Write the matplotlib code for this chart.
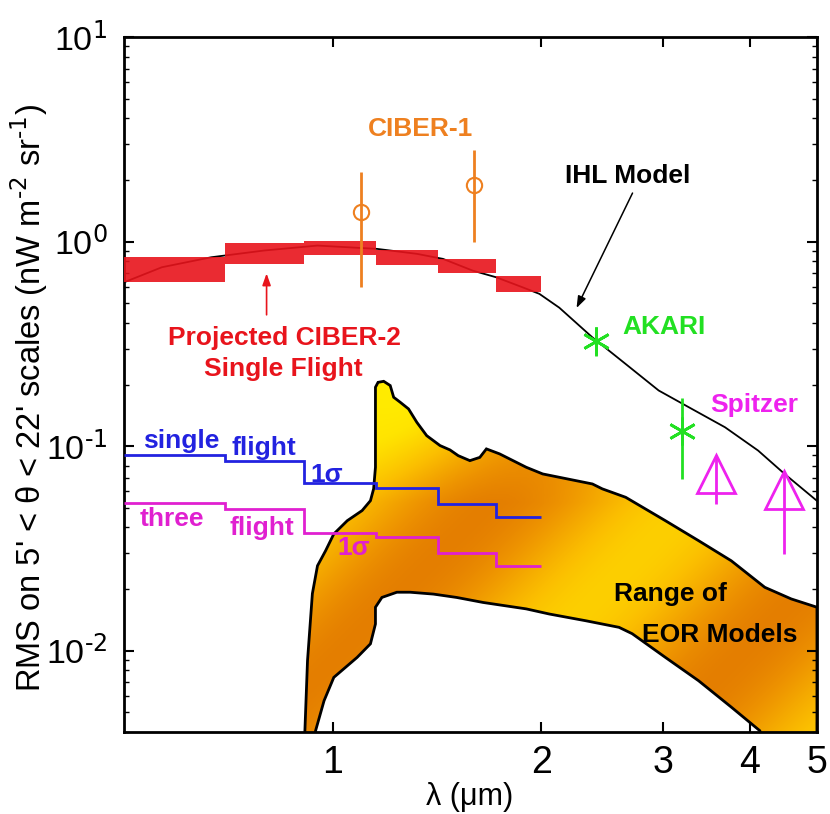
import numpy as np
import matplotlib
matplotlib.use('Agg')
import matplotlib.pyplot as plt
from matplotlib.colors import LinearSegmentedColormap
from matplotlib.patches import Polygon
from matplotlib.ticker import FixedLocator, FuncFormatter, LogLocator, NullFormatter, NullLocator

plt.rcParams['font.family'] = ['Liberation Sans', 'DejaVu Sans']
plt.rcParams['mathtext.default'] = 'regular'

# ---- data ----
# CIBER-2 bins (um)
bin_edges = [0.5, 0.70, 0.91, 1.155, 1.42, 1.72, 2.0]
ciber2_lo = [0.637, 0.778, 0.861, 0.769, 0.703, 0.565]
ciber2_hi = [0.845, 0.981, 1.010, 0.911, 0.823, 0.675]
single_1sig = [0.0906, 0.0849, 0.0658, 0.0622, 0.0522, 0.0449]
three_1sig = [0.0525, 0.0493, 0.0375, 0.0358, 0.0299, 0.0260]

# IHL model
ihl_lam = [0.5, 0.567, 0.668, 0.796, 0.951, 1.159, 1.323, 1.443, 1.593, 1.722,
           1.879, 1.988, 2.124, 2.371, 2.648, 2.955, 3.299, 3.684, 4.112, 4.49, 5.0]
ihl_rms = [0.632, 0.749, 0.838, 0.904, 0.956, 0.921, 0.871, 0.823, 0.721, 0.669,
           0.598, 0.555, 0.475, 0.340, 0.252, 0.187, 0.152, 0.1236, 0.0951, 0.0731, 0.0540]

# measurements
ciber1_lam = [1.10, 1.60]
ciber1_rms = [1.39, 1.89]
ciber1_lo = [0.598, 0.99]
ciber1_hi = [2.18, 2.79]

akari_lam = [2.40, 3.19]
akari_rms = [0.328, 0.119]
akari_lo = [0.277, 0.0691]
akari_hi = [0.381, 0.171]

spitzer_lam = [3.58, 4.48]
spitzer_rms = [0.0731, 0.0610]
spitzer_lo = [0.0522, 0.0297]
spitzer_hi = [0.0909, 0.0759]

# EOR model range: upper edge left->right, lower edge right->left
eor_up_lam = [0.909, 0.920, 0.935, 0.951, 0.977, 1.004, 1.050, 1.103, 1.134, 1.146,
              1.153, 1.153, 1.163, 1.185, 1.211, 1.225, 1.252, 1.287, 1.323, 1.367,
              1.429, 1.477, 1.518, 1.578, 1.631, 1.667, 1.742, 1.903, 2.010, 2.371,
              2.450, 2.648, 3.021, 3.373, 3.761, 4.204, 4.590, 5.0, 5.0]
eor_up_rms = [0.003, 0.00893, 0.0190, 0.0260, 0.0308, 0.0372, 0.0432, 0.0484, 0.0541, 0.0618,
              0.0788, 0.194, 0.205, 0.2074, 0.1977, 0.1733, 0.1638, 0.152, 0.1307, 0.1125,
              0.1006, 0.0958, 0.0898, 0.0849, 0.0881, 0.0969, 0.0916, 0.0788, 0.0731, 0.0653,
              0.0618, 0.0562, 0.0432, 0.0345, 0.0275, 0.0204, 0.0179, 0.0163, 0.003]
eor_lo_lam = [4.25, 4.135, 3.765, 3.373, 3.021, 2.706, 2.590, 2.319, 2.055, 1.903,
              1.649, 1.510, 1.398, 1.294, 1.238, 1.178, 1.153, 1.153, 1.134, 1.085,
              1.004, 0.972, 0.945, 0.943]
eor_lo_rms = [0.003, 0.00406, 0.00528, 0.00713, 0.00927, 0.0121, 0.0130, 0.0140, 0.0151, 0.0160,
              0.0172, 0.0182, 0.0189, 0.0193, 0.0193, 0.0182, 0.0163, 0.0135, 0.0108, 0.00927,
              0.00740, 0.00569, 0.00406, 0.003]

RED = '#E8141C'
ORANGE = '#EE8020'
GREEN = '#22E022'
MAGENTA = '#EE22EE'
BLUE = '#2222E0'
PINK = '#E020D0'

fig = plt.figure(figsize=(8.3, 8.14), dpi=100)
ax = fig.add_axes([0.1494, 0.1007, 0.8349, 0.8538])
ax.set_xscale('log')
ax.set_yscale('log')

# EOR band with a gradient fill
verts = list(zip(eor_up_lam, eor_up_rms)) + list(zip(eor_lo_lam, eor_lo_rms))
poly = Polygon(verts, closed=True, facecolor='none', edgecolor='black', lw=2.0, zorder=2)
ax.add_patch(poly)
cmap = LinearSegmentedColormap.from_list('eor', ['#DD6E00', '#EE9400', '#FBBE00', '#FFE400', '#FFF200'])
U, V = np.meshgrid(np.linspace(0, 1, 500), np.linspace(0, 1, 500))
Z = 0.36 + 0.25 * np.cos(2 * np.pi * (U - V - 0.49) / 0.58) + 1.8 * np.clip(V - 0.33, 0, None)
im = ax.imshow(Z, origin='lower', extent=(0, 1, 0, 1), transform=ax.transAxes,
               cmap=cmap, vmin=0, vmax=1, aspect='auto', interpolation='bilinear', zorder=1)
im.set_clip_path(poly)

# IHL model
ax.plot(ihl_lam, ihl_rms, color='black', lw=1.3, zorder=2)

# projected CIBER-2 boxes
edges = np.array(bin_edges)
lo = np.array(ciber2_lo)
hi = np.array(ciber2_hi)
ax.bar(edges[:-1], hi - lo, bottom=lo, width=np.diff(edges), align='edge',
       color=RED, alpha=0.9, lw=0, zorder=3)

# sensitivity steps
ax.stairs(single_1sig, bin_edges, baseline=None, color=BLUE, lw=2.0, zorder=4)
ax.stairs(three_1sig, bin_edges, baseline=None, color=PINK, lw=2.0, zorder=4)

# CIBER-1
c1 = np.array(ciber1_rms)
ax.errorbar(ciber1_lam, ciber1_rms, yerr=[c1 - np.array(ciber1_lo), np.array(ciber1_hi) - c1],
            fmt='o', mfc='none', mec=ORANGE, ms=11, mew=1.5, ecolor=ORANGE, elinewidth=2, capsize=0, zorder=5)
# AKARI
a1 = np.array(akari_rms)
ax.errorbar(akari_lam, akari_rms, yerr=[a1 - np.array(akari_lo), np.array(akari_hi) - a1],
            fmt='none', ecolor=GREEN, elinewidth=2, capsize=0, zorder=5)
ax.plot(akari_lam, akari_rms, ls='none', marker=(6, 2, 0), ms=20, mec=GREEN, mew=2, zorder=5)
# Spitzer
s1 = np.array(spitzer_rms)
ax.errorbar(spitzer_lam, spitzer_rms, yerr=[s1 - np.array(spitzer_lo), np.array(spitzer_hi) - s1],
            fmt='^', mfc='none', mec=MAGENTA, ms=28, mew=2, ecolor=MAGENTA, elinewidth=2, capsize=0, zorder=5)

# annotations
fs = 19
ax.text(1.337, 3.57, 'CIBER-1', color=ORANGE, fontsize=fs, fontweight='bold', ha='center', va='center')
ax.text(2.67, 2.10, 'IHL Model', color='black', fontsize=fs, fontweight='bold', ha='center', va='center')
ax.annotate('', xy=(2.24, 0.46), xytext=(2.72, 1.776),
            arrowprops=dict(arrowstyle='-|>,head_length=0.7,head_width=0.25', color='black', lw=1.1))
ax.text(3.01, 0.384, 'AKARI', color=GREEN, fontsize=fs, fontweight='bold', ha='center', va='center')
ax.text(4.06, 0.158, 'Spitzer', color=MAGENTA, fontsize=fs, fontweight='bold', ha='center', va='center')
ax.text(0.851, 0.336, 'Projected CIBER-2', color=RED, fontsize=fs, fontweight='bold', ha='center', va='center')
ax.text(0.848, 0.239, 'Single Flight', color=RED, fontsize=fs, fontweight='bold', ha='center', va='center')
ax.annotate('', xy=(0.803, 0.721), xytext=(0.803, 0.425),
            arrowprops=dict(arrowstyle='-|>,head_length=0.7,head_width=0.25', color=RED, lw=1.2))
ax.text(0.605, 0.106, 'single', color=BLUE, fontsize=fs, fontweight='bold', ha='center', va='center')
ax.text(0.796, 0.0983, 'flight', color=BLUE, fontsize=fs, fontweight='bold', ha='center', va='center')
ax.text(0.980, 0.0726, '1σ', color=BLUE, fontsize=fs, fontweight='bold', ha='center', va='center')
ax.text(0.586, 0.0442, 'three', color=PINK, fontsize=fs, fontweight='bold', ha='center', va='center')
ax.text(0.791, 0.0399, 'flight', color=PINK, fontsize=fs, fontweight='bold', ha='center', va='center')
ax.text(1.072, 0.0319, '1σ', color=PINK, fontsize=fs, fontweight='bold', ha='center', va='center')
ax.text(3.075, 0.0190, 'Range of', color='black', fontsize=fs, fontweight='bold', ha='center', va='center')
ax.text(3.615, 0.01197, 'EOR Models', color='black', fontsize=fs, fontweight='bold', ha='center', va='center')

# axes
ax.set_xlim(0.5, 5)
ax.set_ylim(0.004, 10)
ax.xaxis.set_major_locator(FixedLocator([1, 2, 3, 4, 5]))
ax.xaxis.set_major_formatter(FuncFormatter(lambda v, p: '%d' % round(v)))
ax.xaxis.set_minor_locator(NullLocator())
ax.yaxis.set_major_locator(LogLocator(base=10, numticks=10))
ax.yaxis.set_minor_locator(LogLocator(base=10, subs=np.arange(2, 10), numticks=10))
ax.yaxis.set_minor_formatter(NullFormatter())
ax.yaxis.set_major_formatter(FuncFormatter(
    lambda v, p: r'$10^{\text{%d}}$' % round(np.log10(v))))
ax.tick_params(which='both', direction='in', top=True, right=True)
ax.tick_params(which='major', length=7, width=1.5)
ax.tick_params(axis='x', which='major', pad=9, labelsize=27)
ax.tick_params(axis='y', which='major', pad=12, labelsize=24.5)
ax.tick_params(which='minor', length=3.5, width=1)
for sp in ax.spines.values():
    sp.set_linewidth(2)

fig.text(29 / 830, 1 - 398 / 814, r"RMS on 5' < θ < 22' scales (nW m$^{\text{-2}}$ sr$^{\text{-1}}$)",
         rotation=90, ha='center', va='center', fontsize=23.5)
fig.text(470 / 830, 1 - 797 / 814, 'λ (μm)', ha='center', va='center', fontsize=22)

fig.savefig('out.png', dpi=100)
